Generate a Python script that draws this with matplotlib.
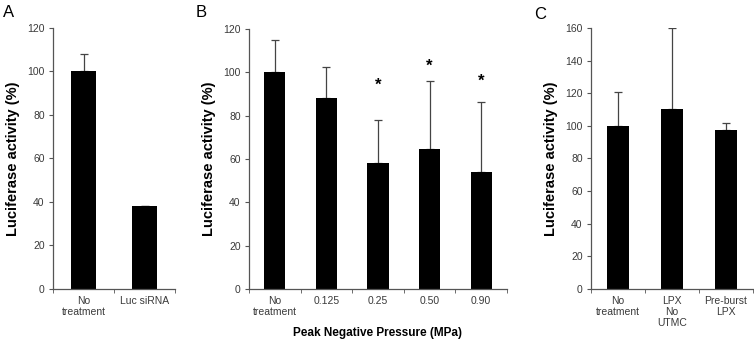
import numpy as np
import matplotlib.pyplot as plt

plt.rcParams['font.family'] = ['Liberation Sans', 'DejaVu Sans']

# panel A: siRNA knockdown
a_labels = ['No\ntreatment', 'Luc siRNA']
a_mean = [100, 38]
a_err = [8, 0]

# panel B: peak negative pressure
b_labels = ['No\ntreatment', '0.125', '0.25', '0.50', '0.90']
b_mean = [100, 88, 58, 64.5, 54]
b_err = [15, 14.5, 20, 31.5, 32.5]
b_star = [None, None, 94, 103, 96]

# panel C: controls
c_labels = ['No\ntreatment', 'LPX\nNo\nUTMC', 'Pre-burst\nLPX']
c_mean = [100, 110.5, 97.5]
c_err = [20.5, 49.5, 4]

axcol = '#555555'
txtcol = '#3a3a3a'


def bar_panel(ax, labels, mean, err, ymax, ystep):
    x = np.arange(len(labels))
    ax.bar(x, mean, width=0.41, color='black', zorder=2)
    ax.errorbar(x, mean, yerr=[np.zeros(len(err)), err], fmt='none',
                ecolor='#444444', elinewidth=0.9, capsize=3, capthick=0.9, zorder=1)
    ax.set_xlim(-0.5, len(labels) - 0.5)
    ax.set_ylim(0, ymax)
    ax.set_yticks(np.arange(0, ymax + 1, ystep))
    ax.set_xticks(x)
    ax.set_xticklabels(labels, fontsize=7.5, color=txtcol, linespacing=1.15)
    ax.set_xticks(np.arange(len(labels) + 1) - 0.5, minor=True)
    ax.tick_params(axis='x', which='major', length=0, pad=5)
    ax.tick_params(axis='x', which='minor', length=3, color=axcol, direction='out')
    ax.tick_params(axis='y', labelsize=7.5, labelcolor=txtcol, length=3, color=axcol, pad=3)
    for s in ['top', 'right']:
        ax.spines[s].set_visible(False)
    for s in ['left', 'bottom']:
        ax.spines[s].set_color(axcol)
        ax.spines[s].set_linewidth(0.9)
    ax.set_ylabel('Luciferase activity (%)', fontsize=10.5, fontweight='bold', labelpad=5)
    return x


fig = plt.figure(figsize=(7.54, 3.41), dpi=100)
ax1 = fig.add_axes([0.0703, 0.1525, 0.1618, 0.7654])
ax2 = fig.add_axes([0.3302, 0.1525, 0.3422, 0.7625])
ax3 = fig.add_axes([0.7838, 0.1525, 0.2149, 0.7654])

bar_panel(ax1, a_labels, a_mean, a_err, 120, 20)
xb = bar_panel(ax2, b_labels, b_mean, b_err, 120, 20)
bar_panel(ax3, c_labels, c_mean, c_err, 160, 20)

for xi, s in zip(xb, b_star):
    if s is not None:
        ax2.text(xi, s, '*', ha='center', va='center', fontsize=12, fontweight='bold')

ax2.set_xlabel('Peak Negative Pressure (MPa)', fontsize=8.5, fontweight='bold', labelpad=7)

fig.text(0.004, 0.962, 'A', fontsize=12, va='center')
fig.text(0.259, 0.962, 'B', fontsize=12, va='center')
fig.text(0.709, 0.958, 'C', fontsize=12, va='center')

fig.savefig('out.png', dpi=100)
